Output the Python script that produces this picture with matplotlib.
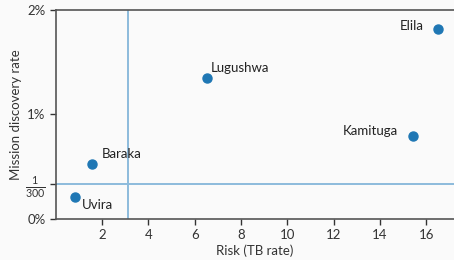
import matplotlib.pyplot as plt

plt.rcParams['font.family'] = ['Lato', 'DejaVu Sans']
plt.rcParams['mathtext.fontset'] = 'custom'
plt.rcParams['mathtext.rm'] = 'Lato'

# data
towns = ["Uvira", "Baraka", "Lugushwa", "Kamituga", "Elila"]
risk = [0.84, 1.58, 6.53, 15.45, 16.49]
discovery = [0.00213, 0.0053, 0.0135, 0.0079, 0.0182]
risk_threshold = 3.1
discovery_threshold = 1 / 300

# label placement (offset in points, alignment)
offsets = {
    "Uvira": ((5, -6), "left"),
    "Baraka": ((7, 7), "left"),
    "Lugushwa": ((3, 7), "left"),
    "Kamituga": ((-11, 4), "right"),
    "Elila": ((-10, 2), "right"),
}

bg = "#fafafa"
fig = plt.figure(figsize=(4.54, 2.60), dpi=100, facecolor=bg)
ax = fig.add_axes([0.123, 0.158, 0.877, 0.804], facecolor=bg)

ax.axvline(risk_threshold, color="#8dbbdc", lw=1.4, zorder=1)
ax.axhline(discovery_threshold, color="#8dbbdc", lw=1.4, zorder=1)
ax.plot(risk, discovery, "o", color="#1f77b4", ms=6.5, zorder=3, clip_on=False)

for name, x, y in zip(towns, risk, discovery):
    (dx, dy), ha = offsets[name]
    ax.annotate(name, (x, y), xytext=(dx, dy), textcoords="offset points",
                ha=ha, va="center", fontsize=9.5, color="#222222")

ax.set_xlim(0, 17.2)
ax.set_ylim(0, 0.02)
ax.set_xticks(range(2, 17, 2))
ax.set_yticks([0, discovery_threshold, 0.01, 0.02])
ax.set_yticklabels(["0%", r"$\frac{1}{300}$", "1%", "2%"])
ax.tick_params(labelsize=9.5, colors="#333333", length=4, width=1)
ax.get_yticklabels()[1].set_fontsize(11)
ax.set_xlabel("Risk (TB rate)", fontsize=9.5, color="#333333", labelpad=2)
ax.set_ylabel("Mission discovery rate", fontsize=9.5, color="#333333")
ax.yaxis.set_label_coords(-0.085, 0.5)

for side in ["left", "bottom", "top"]:
    ax.spines[side].set_color("#555555")
    ax.spines[side].set_linewidth(1.2)
ax.spines["right"].set_visible(False)

fig.savefig("out.png", dpi=100, facecolor=bg)
